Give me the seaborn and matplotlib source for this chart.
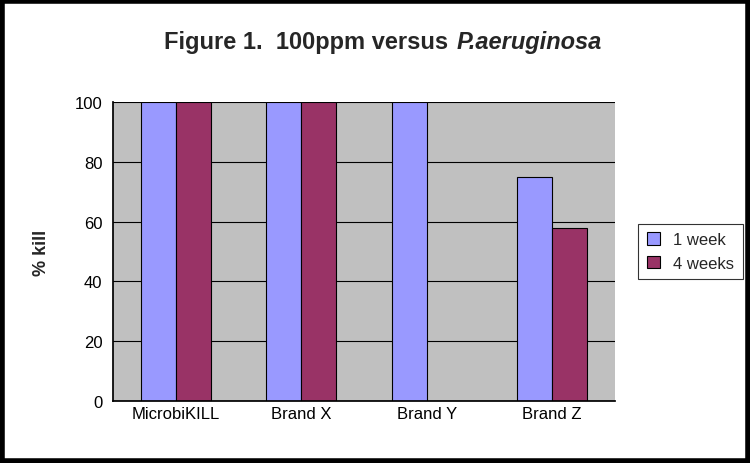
import pandas as pd
import matplotlib.pyplot as plt
import seaborn as sns
from matplotlib.patches import Rectangle

sns.set_theme(style="white")
plt.rcParams['font.family'] = ['Liberation Sans', 'DejaVu Sans']

products = ['MicrobiKILL', 'Brand X', 'Brand Y', 'Brand Z']
week1 = [100, 100, 100, 75]
week4 = [100, 100, 0, 58]

df = pd.DataFrame({
    'product': products * 2,
    'period': ['1 week'] * 4 + ['4 weeks'] * 4,
    'kill': week1 + week4,
})

fig = plt.figure(figsize=(7.5, 4.64), dpi=100)
ax = fig.add_axes([113 / 750, 1 - 402 / 464, 502 / 750, 299 / 464])
ax.set_facecolor('#C0C0C0')

sns.barplot(data=df, x='product', y='kill', hue='period', ax=ax,
            palette=['#9999FF', '#993366'], width=0.56, gap=0,
            edgecolor='black', linewidth=0.8, saturation=1)

ax.set_ylim(0, 100)
ax.set_yticks(range(0, 101, 20))
ax.set_xlim(-0.5, 3.5)
ax.yaxis.grid(True, color='black', linewidth=0.8)
ax.set_axisbelow(True)
for s in ['left', 'bottom']:
    ax.spines[s].set_color('black')
ax.spines['top'].set_visible(False)
ax.spines['right'].set_visible(False)
ax.tick_params(axis='both', labelsize=12, colors='black', length=4, direction='out')
ax.tick_params(axis='x', length=0)
ax.set_xlabel('')
ax.set_ylabel('% kill', fontsize=13, fontweight='bold', labelpad=18)

leg = ax.legend(loc='center left', bbox_to_anchor=(1.03, 0.5), fontsize=12,
                frameon=True, fancybox=False, edgecolor='black',
                handlelength=0.8, handleheight=0.8, borderpad=0.5)
leg.get_frame().set_linewidth(0.8)

fig.text(455 / 750, 1 - 42 / 464, 'Figure 1.  100ppm versus ', ha='right', va='center',
         fontsize=17, fontweight='bold')
fig.text(457 / 750, 1 - 42 / 464, 'P.aeruginosa', ha='left', va='center',
         fontsize=17, fontweight='bold', style='italic')

fig.patches.append(Rectangle((0.003, 0.004), 0.994, 0.992, transform=fig.transFigure,
                             fill=False, edgecolor='black', linewidth=4))

plt.savefig('out.png', dpi=100)
